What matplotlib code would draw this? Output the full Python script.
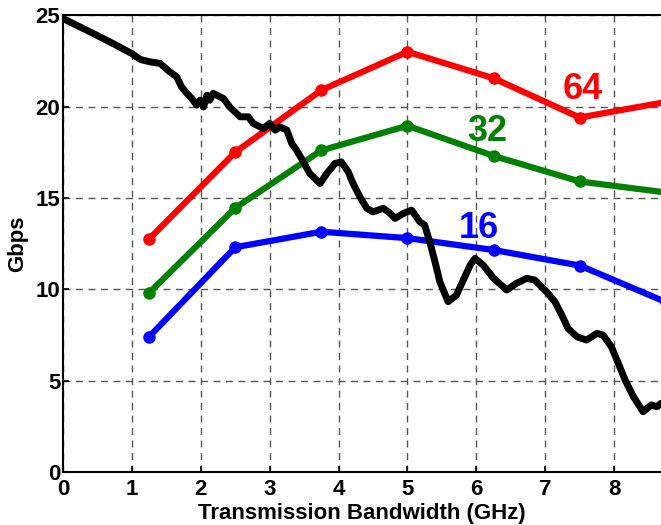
import matplotlib
matplotlib.use('Agg')
import matplotlib.pyplot as plt

# modulation curves (Gbps vs bandwidth)
bw = [1.25, 2.5, 3.75, 5.0, 6.25, 7.5, 8.75]
qam64 = [12.75, 17.5, 20.9, 23.0, 21.55, 19.4, 20.25]
qam32 = [9.8, 14.45, 17.6, 18.95, 17.3, 15.9, 15.3]
qam16 = [7.4, 12.3, 13.15, 12.8, 12.15, 11.3, 9.3]

# measured capacity trace
cap_x = [0.00, 0.44, 0.68, 1.00, 1.12, 1.26, 1.41, 1.55, 1.65, 1.72, 1.80, 1.87,
         1.94, 1.99, 2.04, 2.09, 2.13, 2.18, 2.33, 2.42, 2.57, 2.69, 2.76, 2.91,
         3.00, 3.08, 3.15, 3.25, 3.32, 3.39, 3.49, 3.58, 3.73, 3.83, 3.95, 4.04,
         4.14, 4.21, 4.31, 4.41, 4.50, 4.65, 4.75, 4.82, 4.94, 5.06, 5.18, 5.25,
         5.33, 5.40, 5.47, 5.59, 5.71, 5.81, 5.91, 5.98, 6.10, 6.25, 6.44, 6.58,
         6.73, 6.85, 7.02, 7.14, 7.24, 7.33, 7.46, 7.60, 7.75, 7.84, 7.96, 8.06,
         8.16, 8.28, 8.42, 8.54, 8.62, 8.68, 8.75]
cap_y = [24.82, 24.00, 23.54, 22.90, 22.58, 22.45, 22.36, 21.90, 21.63, 21.08, 20.72, 20.44,
         20.08, 20.35, 19.98, 20.62, 20.35, 20.72, 20.44, 19.98, 19.44, 19.44, 19.08, 18.80,
         19.08, 18.71, 18.89, 18.71, 17.98, 17.61, 16.97, 16.34, 15.79, 16.34, 16.89, 16.97,
         16.43, 15.79, 15.06, 14.43, 14.24, 14.43, 14.15, 13.88, 14.15, 14.33, 13.69, 13.51,
         12.51, 11.50, 10.41, 9.32, 9.68, 10.50, 11.32, 11.69, 11.32, 10.60, 9.96, 10.32,
         10.60, 10.50, 9.86, 9.32, 8.59, 7.86, 7.40, 7.22, 7.59, 7.49, 6.85, 5.95,
         5.03, 4.12, 3.30, 3.67, 3.57, 3.76, 3.80]

plt.rcParams['font.family'] = 'Liberation Sans'
plt.rcParams['font.weight'] = 'bold'

fig = plt.figure(figsize=(6.61, 5.25), dpi=100)
ax = fig.add_axes([0.0953, 0.101, 0.9047, 0.870])

ax.plot(bw, qam64, color='#ff0000', lw=4.5, marker='o', ms=8)
ax.plot(bw, qam32, color='#008000', lw=4.5, marker='o', ms=8)
ax.plot(bw, qam16, color='#0000ff', lw=4.5, marker='o', ms=8)
ax.plot(cap_x, cap_y, color='black', lw=5)

ax.text(7.55, 20.95, '64', color='#ff0000', fontsize=26, fontweight='bold', ha='center', va='center')
ax.text(6.16, 18.65, '32', color='#008000', fontsize=26, fontweight='bold', ha='center', va='center')
ax.text(6.04, 13.35, '16', color='#0000ff', fontsize=26, fontweight='bold', ha='center', va='center')

ax.set_xlim(0, 8.68)
ax.set_ylim(0, 25)
ax.set_xticks(range(0, 9))
ax.set_yticks(range(0, 26, 5))
ax.tick_params(direction='in', labelsize=16, length=4, width=1.2)
ax.tick_params(axis='x', pad=5)
ax.tick_params(axis='y', pad=2)
for lab in ax.get_xticklabels() + ax.get_yticklabels():
    lab.set_fontweight('bold')
ax.grid(True, color='#555555', linestyle=(0, (5, 4)), linewidth=1)
ax.spines['right'].set_visible(False)
for s in ['left', 'top', 'bottom']:
    ax.spines[s].set_linewidth(1.5)

ax.set_xlabel('Transmission Bandwidth (GHz)', fontsize=16, fontweight='bold', labelpad=2)
ax.set_ylabel('Gbps', fontsize=16, fontweight='bold', labelpad=5)

fig.savefig('out.png', dpi=100)
